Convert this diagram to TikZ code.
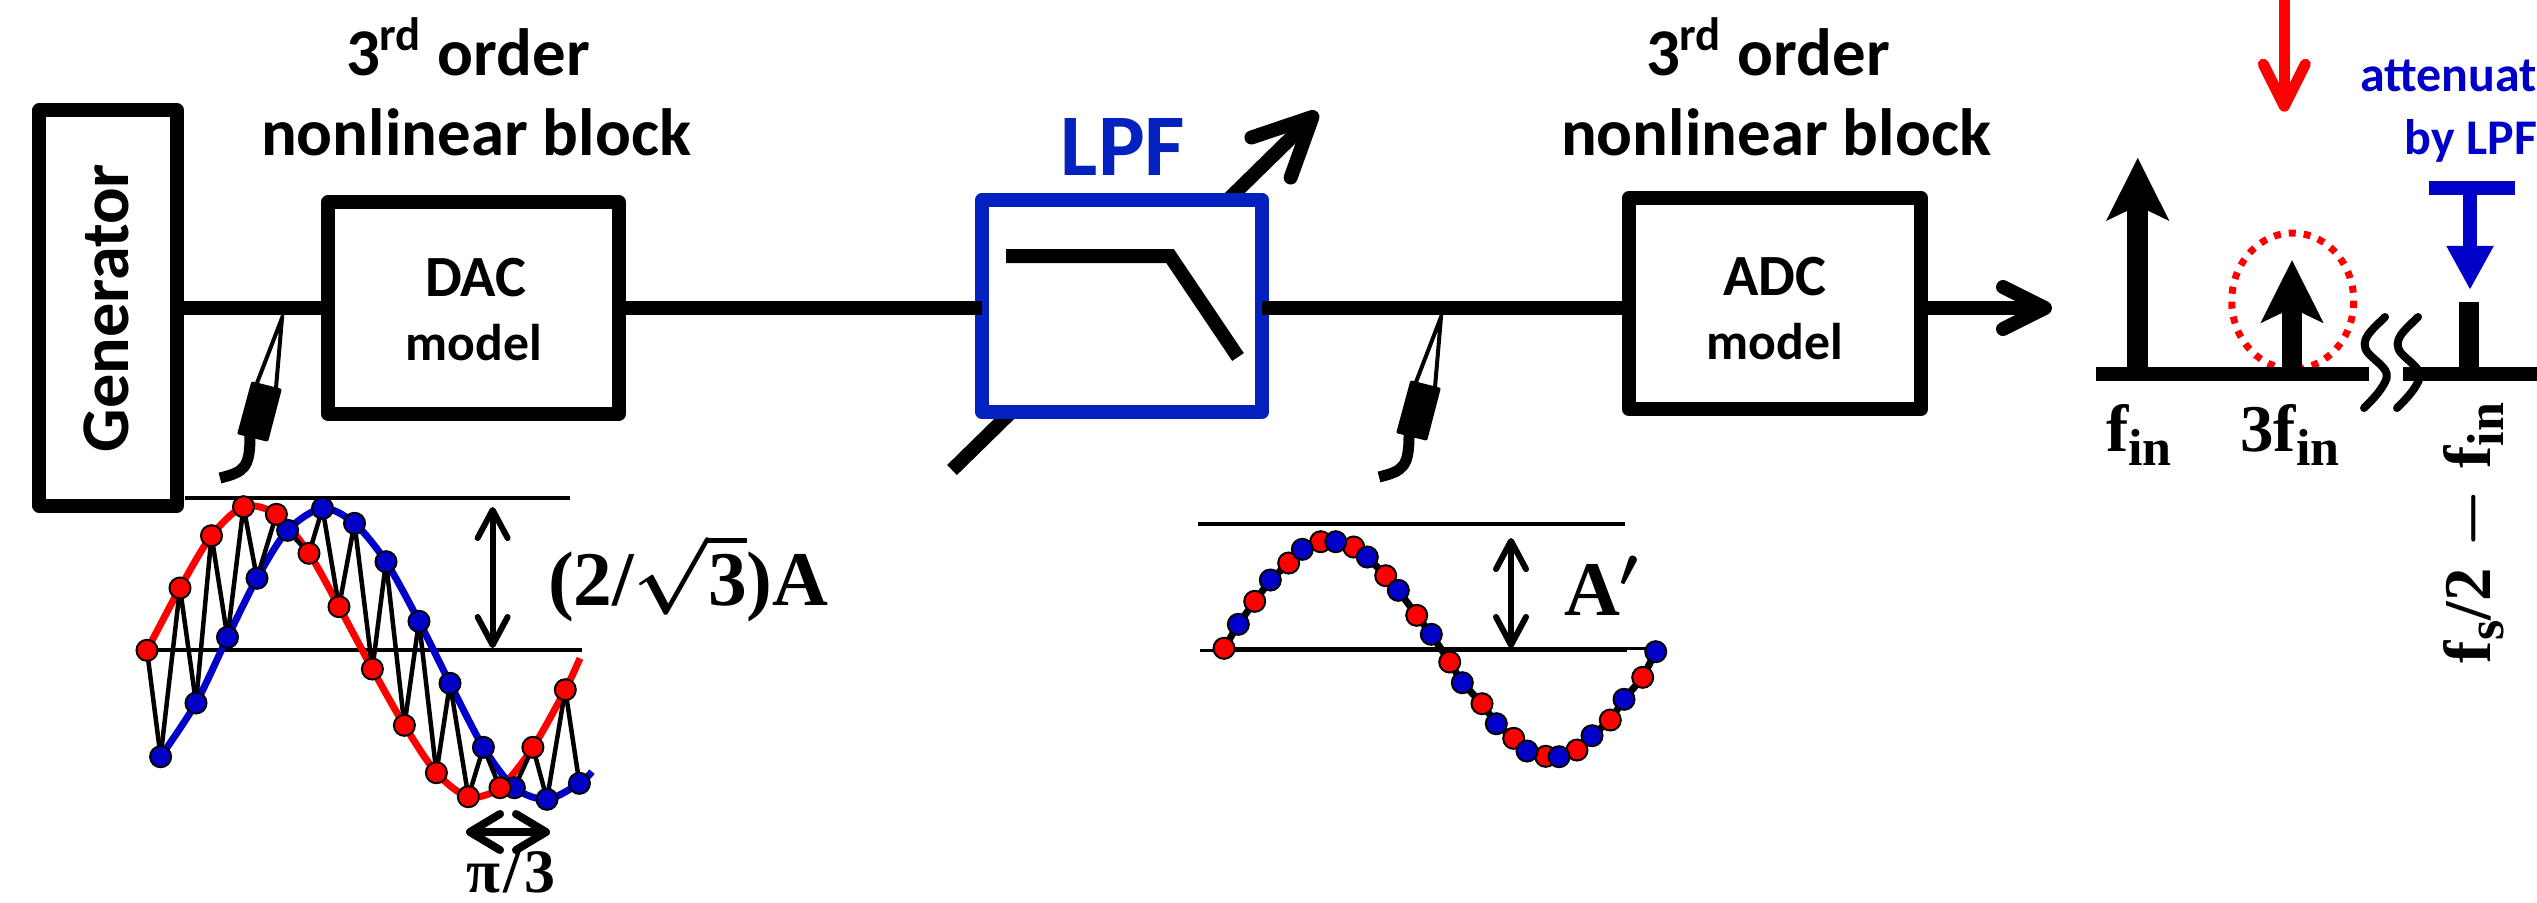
\documentclass[tikz,border=0pt]{standalone}
\usepackage{fix-cm}
\usepackage[no-math]{fontspec}
\setsansfont{Carlito}
\newfontfamily\labelserif{Liberation Serif}
\usetikzlibrary{arrows.meta}
\definecolor{lpfblue}{HTML}{0321BE}
\definecolor{waveblue}{HTML}{0000C8}
\newcommand{\subin}[1]{\raisebox{-0.2em}{\fontsize{14.8}{15}\selectfont #1}}
\tikzset{
x=0.01cm, y=-0.01cm, % one unit is one pixel of the reference
every node/.style={inner sep=0pt, outer sep=0pt},
blockbox/.style={draw, line width=0.14cm, line join=round, fill=white},
wire/.style={line width=0.14cm},
thinline/.style={line width=0.04cm},
headtext/.style={anchor=base, font=\sffamily\bfseries\fontsize{19}{23}\selectfont},
nametext/.style={anchor=base, font=\sffamily\bfseries\fontsize{16.6}{20}\selectfont},
modeltext/.style={anchor=base, font=\sffamily\bfseries\fontsize{14.7}{17}\selectfont},
bluetext/.style={anchor=base east, text=waveblue, font=\sffamily\bfseries\fontsize{14.2}{17}\selectfont},
freqlabel/.style={anchor=base, font=\boldmath\labelserif\bfseries\fontsize{19}{23}\selectfont},
amplabel/.style={anchor=base west, font=\boldmath\labelserif\bfseries\fontsize{22}{26}\selectfont},
reddot/.style={circle, draw, line width=0.02cm, fill=red, minimum size=0.21cm},
bluedot/.style={circle, draw, line width=0.02cm, fill=waveblue, minimum size=0.21cm},
ampline/.style={<->, >={Straight Barb[length=0.28cm, width=0.3cm, round]}, line width=0.06cm},
openarrow/.style={->, >={Straight Barb[length=0.42cm, width=0.42cm, round]}, line width=0.14cm},
speca/.style={-{Stealth[length=0.62cm, width=0.61cm, inset=0.14cm]}, line width=0.207cm},
probe/.pic={
    \draw[line width=0.04cm, line cap=round] (-25,65) -- (0,0) -- (-6,70);
    \fill[line join=round, draw, line width=0.03cm] (-29.5,65) -- (-2,72) -- (-15,122) -- (-43,115) -- cycle;
    \draw[line width=0.11cm] (-32,118) .. controls (-32,150) and (-38,154) .. (-62,160);
}
}

\begin{document}
\begin{tikzpicture}
    \useasboundingbox (0,0) rectangle (2537,902);

    % signal chain
    \coordinate (outtip) at (2052,308);
    \coordinate (tunelow) at (952,470);
    \coordinate (tunehigh) at (1317.5,112);
    \draw[line width=0.14cm, ->, >={Straight Barb[length=0.58cm, width=0.56cm, round]}] (tunelow) -- (tunehigh);
    \node[blockbox, minimum width=1.375cm, minimum height=3.95cm] (gen) at (108.2,308) {};
    \node[blockbox, minimum width=2.91cm, minimum height=2.11cm] (dac) at (473.5,308) {};
    \node[blockbox, draw=lpfblue, minimum width=2.8cm, minimum height=2.12cm] (lpf) at (1122,306) {};
    \node[blockbox, minimum width=2.92cm, minimum height=2.11cm] (adc) at (1775,303.5) {};
    \draw[wire] (gen.east) -- (dac.west);
    \draw[wire] (dac.east) -- (dac.east -| lpf.west);
    \draw[wire] (lpf.east |- dac.east) -- (adc.west |- dac.east);
    \draw[openarrow] (adc.east |- dac.east) -- (outtip);
    \draw[line width=0.14cm] (1006,256) -- (1170,256) -- (1238,357);

    % block labels
    \node[rotate=90, anchor=base, font=\sffamily\bfseries\fontsize{19.4}{23}\selectfont] (gentext) at (128,308) {Generator};
    \node[headtext] (dachead) at (468,75) {3\textsuperscript{rd} order};
    \node[headtext] (dacnl) at (476,155) {nonlinear block};
    \node[headtext] (adchead) at (1768,75) {3\textsuperscript{rd} order};
    \node[headtext] (adcnl) at (1776,155) {nonlinear block};
    \node[nametext] (dactext) at (476,296) {DAC};
    \node[modeltext] (dacmodel) at (474,360) {model};
    \node[nametext] (adctext) at (1775,295) {ADC};
    \node[modeltext] (adcmodel) at (1775,359) {model};
    \node[anchor=base, text=lpfblue, font=\sffamily\bfseries\fontsize{25}{30}\selectfont] (lpftext) at (1123,175) {LPF};

    % probes
    \pic at (282,318) {probe};
    \pic at (1441,317) {probe};

    % left waveform
    \foreach \n/\x/\y in {1/147/650.3, 2/180/588, 3/211.5/535.7, 4/243.5/506.7, 5/276.4/514.3, 6/309/553.3, 7/339/606.7, 8/372.4/669, 9/404.4/725.3, 10/436.4/772.7, 11/468.4/796.7, 12/500/787.7, 13/532.9/747.3, 14/565.3/689.7, 15/580/658.3}
        \coordinate (lr\n) at (\x,\y);
    \foreach \n/\x/\y in {1/160.6/756.7, 2/196/703, 3/227.5/637.3, 4/257/578.3, 5/287.6/530.3, 6/322.5/508.3, 7/354.5/523.3, 8/386/561.7, 9/419/621.3, 10/450/683.3, 11/483.4/747.3, 12/514.4/787.7, 13/547/799.3, 14/579.4/783.3, 15/592/771.7}
        \coordinate (lb\n) at (\x,\y);
    \coordinate (lefttop) at (185,498);
    \coordinate (lefttopend) at (570,498);
    \coordinate (leftmid) at (147,650);
    \coordinate (leftmidend) at (582,650);
    \draw[thinline] (lefttop) -- (lefttopend);
    \draw[thinline] (leftmid) -- (leftmidend);
    \draw[red, line width=0.07cm] plot[smooth] coordinates {(lr1) (lr2) (lr3) (lr4) (lr5) (lr6) (lr7) (lr8) (lr9) (lr10) (lr11) (lr12) (lr13) (lr14) (lr15)};
    \draw[waveblue, line width=0.07cm] plot[smooth] coordinates {(lb1) (lb2) (lb3) (lb4) (lb5) (lb6) (lb7) (lb8) (lb9) (lb10) (lb11) (lb12) (lb13) (lb14) (lb15)};
    \foreach \n in {1,...,14}
        \draw[line width=0.045cm] (lr\n) -- (lb\n);
    \foreach \n/\m in {1/2,2/3,3/4,4/5,5/6,6/7,7/8,8/9,9/10,10/11,11/12,12/13,13/14}
        \draw[line width=0.045cm] (lb\n) -- (lr\m);
    \foreach \n in {1,...,14}
        \node[bluedot] (lbd\n) at (lb\n) {};
    \foreach \n in {1,...,14}
        \node[reddot] (lrd\n) at (lr\n) {};
    \coordinate (ampa) at (492.6,507);
    \coordinate (ampb) at (492.6,648);
    \draw[ampline] (ampa) -- (ampb);
    \node[amplabel] (amptext) at (548,605) {(2/$\sqrt{\hbox{3}}$)A};
    \coordinate (pia) at (466,832);
    \coordinate (pib) at (550,832);
    \draw[<->, >={Straight Barb[length=0.3cm, width=0.36cm, round]}, line width=0.08cm] (pia) -- (pib);
    \node[freqlabel, font=\labelserif\bfseries\fontsize{17.6}{21}\selectfont] (pilabel) at (511,892) {π\hspace{0.05em}/\hspace{0.05em}3};

    % middle waveform
    \foreach \n/\x/\y in {1/1224/648.3, 2/1254.7/601.3, 3/1288.7/563, 4/1320.7/541.7, 5/1353.7/547, 6/1385.7/575.7, 7/1416.7/615.3, 8/1449.7/662, 9/1482/703.7, 10/1513.7/738.3, 11/1545.7/756.3, 12/1577/750, 13/1610.3/720, 14/1642.7/677.3}
        \coordinate (mr\n) at (\x,\y);
    \foreach \n/\x/\y in {1/1238.3/624.3, 2/1270.3/580, 3/1302.3/549.3, 4/1335.7/541.7, 5/1367.3/557, 6/1398.3/590.3, 7/1431.3/634.3, 8/1462.3/682.7, 9/1496.3/723.7, 10/1527/751, 11/1559/756.7, 12/1592/735.7, 13/1624/699.3, 14/1655.7/651.7}
        \coordinate (mb\n) at (\x,\y);
    \coordinate (midtop) at (1198,524);
    \coordinate (midtopend) at (1625,524);
    \coordinate (midbase) at (1200,650.7);
    \coordinate (midbaseend) at (1627,650.7);
    \coordinate (midupper) at (1217,648);
    \coordinate (midupperend) at (1650,648);
    \draw[thinline] (midtop) -- (midtopend);
    \draw[line width=0.03cm] (midbase) -- (midbaseend);
    \draw[line width=0.03cm] (midupper) -- (midupperend);
    \foreach \n in {1,...,14}
        \draw[line width=0.07cm] (mr\n) -- (mb\n);
    \foreach \n/\m in {1/2,2/3,3/4,4/5,5/6,6/7,7/8,8/9,9/10,10/11,11/12,12/13,13/14}
        \draw[line width=0.07cm] (mb\n) -- (mr\m);
    \foreach \n in {1,...,14}
        \node[reddot] (mrd\n) at (mr\n) {};
    \foreach \n in {1,...,14}
        \node[bluedot] (mbd\n) at (mb\n) {};
    \coordinate (mampa) at (1511,538);
    \coordinate (mampb) at (1511,648);
    \draw[ampline] (mampa) -- (mampb);
    \node[amplabel] (mamptext) at (1564,615) {A$'$};

    % spectrum
    \coordinate (axa) at (2096,374);
    \coordinate (axb) at (2369,374);
    \coordinate (axc) at (2403,374);
    \coordinate (axd) at (2537,374);
    \coordinate (fone) at (2137.7,374);
    \coordinate (fonetop) at (2137.7,157.7);
    \coordinate (fthree) at (2292,374);
    \coordinate (fthreetop) at (2292,260);
    \coordinate (fimg) at (2469,374);
    \coordinate (fimgtop) at (2469,301.7);
    \draw[red, line width=0.07cm, dash pattern=on 0.07cm off 0.08cm] (2292.7,301) ellipse [x radius=61, y radius=68];
    \draw[wire] (axa) -- (axb);
    \draw[wire] (axc) -- (axd);
    \draw[speca] (fone) -- (fonetop);
    \draw[speca] (fthree) -- (fthreetop);
    \draw[line width=0.207cm] (fimg) -- (fimgtop);
    \draw[line width=0.08cm, line cap=round] (2385,317) .. controls (2372,330) and (2358,340) .. (2368,353) .. controls (2378,364) and (2392,370) .. (2385,382) .. controls (2380,392) and (2372,400) .. (2364,408);
    \draw[line width=0.08cm, line cap=round] (2418,317) .. controls (2405,330) and (2391,340) .. (2401,353) .. controls (2411,364) and (2425,370) .. (2418,382) .. controls (2413,392) and (2405,400) .. (2397,408);
    \node[freqlabel] (fonelabel) at (2139,451.7) {f\subin{in}};
    \node[freqlabel] (fthreelabel) at (2290,451.7) {3f\subin{in}};
    \node[freqlabel, rotate=90] (fimglabel) at (2490,533) {f\subin{s}/2\hspace{0.3em}$-$\hspace{0.3em}f\subin{in}};

    % annotations of the spectrum
    \coordinate (redtop) at (2284.3,0);
    \coordinate (redtip) at (2284.3,111.7);
    \draw[red, ->, >={Straight Barb[length=0.42cm, width=0.42cm, round]}, line width=0.11cm] (redtop) -- (redtip);
    \node[bluetext] (attlabel) at (2537,91.7) {attenuat};
    \node[bluetext] (bylabel) at (2537,154) {by LPF};
    \coordinate (barleft) at (2429,188);
    \coordinate (barright) at (2515.3,188);
    \coordinate (stemtop) at (2470,188);
    \coordinate (stemtip) at (2470,290);
    \draw[waveblue, line width=0.14cm] (barleft) -- (barright);
    \draw[waveblue, -{Triangle[length=0.44cm, width=0.44cm]}, line width=0.147cm] (stemtop) -- (stemtip);
\end{tikzpicture}
\end{document}
